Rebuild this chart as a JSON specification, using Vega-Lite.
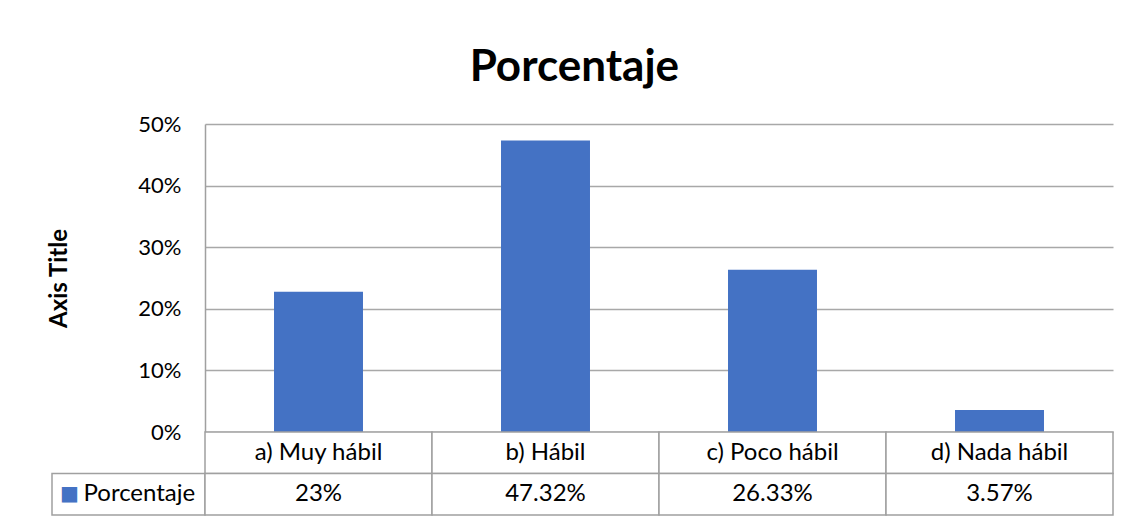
{
  "$schema": "https://vega.github.io/schema/vega-lite/v6.json",
  "background": "white",
  "padding": {"left": 47, "top": 46, "right": 16, "bottom": 7},
  "config": {"view": {"stroke": null}, "font": "Lato"},
  "title": {"text": "Porcentaje", "fontSize": 44, "fontWeight": "bold", "color": "#000000", "anchor": "middle", "frame": "bounds", "offset": 23, "dx": -6},
  "datasets": {
    "main": [
      {"categoria": "a) Muy hábil", "pct": 0.2278, "etiqueta": "23%"},
      {"categoria": "b) Hábil", "pct": 0.4732, "etiqueta": "47.32%"},
      {"categoria": "c) Poco hábil", "pct": 0.2633, "etiqueta": "26.33%"},
      {"categoria": "d) Nada hábil", "pct": 0.0357, "etiqueta": "3.57%"}
    ],
    "leyenda": [{"serie": "Porcentaje", "fila": "etiqueta", "simbolo": "■"}],
    "vacio": []
  },
  "columns": 2,
  "spacing": 0,
  "bounds": "flush",
  "concat": [
    {
      "width": 153,
      "height": 308,
      "data": {"name": "vacio"},
      "mark": "rect",
      "encoding": {}
    },
    {
      "width": 908,
      "height": 308,
      "data": {"name": "main"},
      "mark": {"type": "bar", "color": "#4472C4"},
      "encoding": {
        "x": {"field": "categoria", "type": "nominal", "sort": null, "axis": null, "scale": {"paddingInner": 0.608, "paddingOuter": 0.304}},
        "y": {
          "field": "pct", "type": "quantitative",
          "scale": {"domain": [0, 0.5]},
          "axis": {
            "title": "Axis Title", "format": ".0%", "values": [0, 0.1, 0.2, 0.3, 0.4, 0.5],
            "labelFontSize": 22, "labelColor": "#000000", "labelPadding": 24, "ticks": false,
            "minExtent": 70, "maxExtent": 70,
            "domainColor": "#a0a0a0", "domainWidth": 1.5, "gridColor": "#a8a8a8", "gridWidth": 1.3,
            "titleFontSize": 24, "titleFontWeight": "bold", "titleColor": "#000000", "titlePadding": 64
          }
        }
      }
    },
    {
      "width": 153,
      "height": 83,
      "data": {"name": "leyenda"},
      "encoding": {
        "x": {"field": "serie", "type": "nominal", "axis": null, "scale": {"paddingInner": 0, "paddingOuter": 0}},
        "y": {"field": "fila", "type": "nominal", "axis": null, "scale": {"domain": ["categoria", "etiqueta"], "paddingInner": 0, "paddingOuter": 0}}
      },
      "layer": [
        {"mark": {"type": "rect", "fill": "white", "stroke": "#a0a0a0", "strokeWidth": 1.5}},
        {"mark": {"type": "text", "color": "#4472C4", "fontSize": 20, "dx": -59, "font": "DejaVu Sans"}, "encoding": {"text": {"field": "simbolo"}}},
        {"mark": {"type": "text", "align": "left", "dx": -45, "fontSize": 24, "color": "#000000"}, "encoding": {"text": {"field": "serie"}}}
      ]
    },
    {
      "width": 908,
      "height": 83,
      "data": {"name": "main"},
      "transform": [{"fold": ["categoria", "etiqueta"], "as": ["fila", "texto"]}],
      "encoding": {
        "x": {"field": "categoria", "type": "nominal", "sort": null, "axis": null, "scale": {"paddingInner": 0, "paddingOuter": 0}},
        "y": {"field": "fila", "type": "nominal", "axis": null, "scale": {"domain": ["categoria", "etiqueta"], "paddingInner": 0, "paddingOuter": 0}}
      },
      "layer": [
        {"mark": {"type": "rect", "fill": "white", "stroke": "#a0a0a0", "strokeWidth": 1.5}},
        {"mark": {"type": "text", "fontSize": 24, "color": "#000000"}, "encoding": {"text": {"field": "texto"}}}
      ]
    }
  ]
}
